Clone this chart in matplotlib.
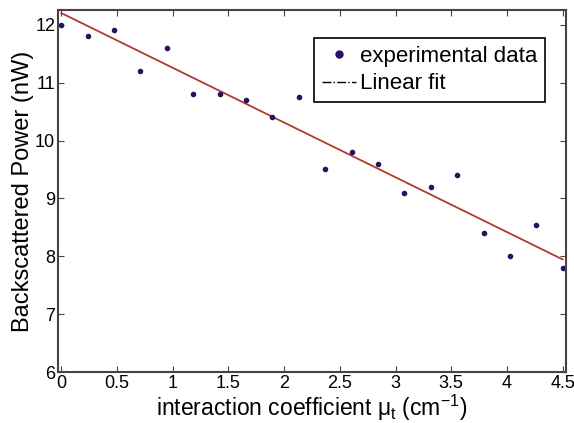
import matplotlib
matplotlib.use('Agg')
import matplotlib.pyplot as plt
from matplotlib.lines import Line2D
import numpy as np

plt.rcParams['font.family'] = ['Liberation Sans', 'DejaVu Sans']
plt.rcParams['mathtext.fontset'] = 'custom'
plt.rcParams['mathtext.rm'] = 'Liberation Sans'
plt.rcParams['mathtext.it'] = 'Liberation Sans'

# measured points
mu_t = [0.0, 0.24, 0.47, 0.71, 0.95, 1.18, 1.42, 1.66, 1.89, 2.13,
        2.37, 2.61, 2.84, 3.08, 3.32, 3.55, 3.79, 4.03, 4.26, 4.5]
power = [12.0, 11.8, 11.9, 11.2, 11.6, 10.8, 10.8, 10.7, 10.4, 10.75,
         9.5, 9.8, 9.6, 9.1, 9.2, 9.4, 8.4, 8.0, 8.55, 7.8]

# linear fit parameters
fit_intercept = 12.2
fit_slope = -0.945

fig = plt.figure(figsize=(5.74, 4.23), dpi=100)
ax = fig.add_axes([0.101, 0.12, 0.885, 0.856])

x_fit = np.array([mu_t[0], mu_t[-1]])
ax.plot(x_fit, fit_intercept + fit_slope * x_fit, color='#b03a2e', lw=1.3)
ax.plot(mu_t, power, 'o', color='#2a1060', ms=3, ls='none')

ax.set_xlim(-0.03, 4.53)
ax.set_ylim(6, 12.25)
ax.set_xticks([0, 0.5, 1, 1.5, 2, 2.5, 3, 3.5, 4, 4.5])
ax.set_xticklabels(['0', '0.5', '1', '1.5', '2', '2.5', '3', '3.5', '4', '4.5'])
ax.set_yticks([6, 7, 8, 9, 10, 11, 12])
ax.tick_params(direction='in', top=True, right=True, labelsize=13, length=4,
               color='#444444', pad=2)
for s in ax.spines.values():
    s.set_linewidth(1.5)
    s.set_color('#444444')

ax.set_xlabel(r'interaction coefficient $\mu_t$ (cm$^{-1}$)', fontsize=16.5)
ax.set_ylabel('Backscattered Power (nW)', fontsize=17)
ax.xaxis.set_label_coords(0.5, -0.057)
ax.yaxis.set_label_coords(-0.047, 0.5)

handles = [Line2D([], [], marker='o', color='#2a1060', ms=5, ls='none'),
           Line2D([], [], color='black', ls='-.', lw=1)]
leg = ax.legend(handles, ['experimental data', 'Linear fit'], loc='upper right',
                bbox_to_anchor=(0.959, 0.923), fontsize=16, fancybox=False,
                framealpha=1, edgecolor='black', handlelength=1.5,
                handletextpad=0.2, borderpad=0.35, labelspacing=0.3, borderaxespad=0)
leg.get_frame().set_linewidth(1.2)

fig.savefig('out.png', dpi=100)
